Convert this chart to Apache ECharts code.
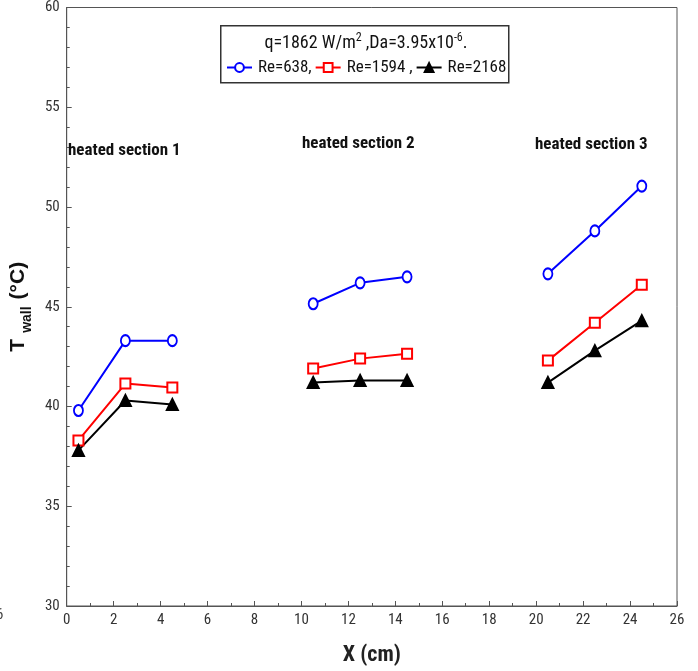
<!DOCTYPE html>
<html>
<head>
<meta charset="utf-8">
<script src="https://cdn.jsdelivr.net/npm/echarts@6/dist/echarts.min.js"></script>
<style>
  html, body { margin: 0; padding: 0; background: #fff; }
  #chart { width: 698px; height: 671px; }
</style>
</head>
<body>
<div id="chart"></div>
<script>
// Axial positions of the wall thermocouples (cm)
const xPositions = [0.5, 2.5, 4.5, 10.5, 12.5, 14.5, 20.5, 22.5, 24.5];
// Wall temperatures (°C) for each Reynolds number
const tRe638  = [39.8, 43.3, 43.3, 45.15, 46.2, 46.5, 46.65, 48.8, 51.05];
const tRe1594 = [38.3, 41.15, 40.95, 41.9, 42.4, 42.65, 42.3, 44.2, 46.1];
const tRe2168 = [37.8, 40.3, 40.1, 41.2, 41.3, 41.3, 41.2, 42.8, 44.3];
// Three separate heated sections (index ranges into the arrays above)
const sections = [[0, 3], [3, 6], [6, 9]];
const sectionLabels = ['heated section 1', 'heated section 2', 'heated section 3'];
const seriesNames = ['Re=638,', 'Re=1594 ,', 'Re=2168'];

const NARROW = '"Roboto Condensed", "Liberation Sans", Arial, sans-serif';
const SANS = '"Liberation Sans", Arial, sans-serif';

function pairs(values, range) {
  const out = [];
  for (let i = range[0]; i < range[1]; i++) out.push([xPositions[i], values[i]]);
  return out;
}

const styles = [
  { name: seriesNames[0], values: tRe638,  color: '#0000ff', symbol: 'emptyCircle', size: [9, 11] },
  { name: seriesNames[1], values: tRe1594, color: '#ff0000', symbol: 'emptyRect',   size: 10 },
  { name: seriesNames[2], values: tRe2168, color: '#000000', symbol: 'triangle',    size: 11 }
];

// one line per heated section, so the sections are not joined
const series = [];
styles.forEach(s => {
  sections.forEach(range => {
    series.push({
      type: 'line',
      name: s.name,
      data: pairs(s.values, range),
      symbol: s.symbol,
      symbolSize: s.size,
      showAllSymbol: true,
      lineStyle: { color: s.color, width: 2 },
      itemStyle: { color: s.color, borderColor: s.color, borderWidth: 2 },
      emphasis: { disabled: true },
      z: 3
    });
  });
});

const chart = echarts.init(document.getElementById('chart'), null, { renderer: 'canvas' });
chart.setOption({
  animation: false,
  backgroundColor: '#fff',
  grid: { left: 60, right: 21, top: 7, bottom: 64, show: true, borderColor: '#555', borderWidth: 1 },
  xAxis: {
    type: 'value', min: 0, max: 26, interval: 2,
    axisLine: { show: true, onZero: false, lineStyle: { color: '#555', width: 1 } },
    axisTick: { show: true, inside: true, length: 5, lineStyle: { color: '#555' } },
    minorTick: { show: true, splitNumber: 2, length: 3, lineStyle: { color: '#555' } },
    splitLine: { show: false },
    axisLabel: { color: '#333', fontFamily: NARROW, fontSize: 15, margin: 7 },
    name: 'X (cm)', nameLocation: 'middle', nameGap: 38,
    nameTextStyle: { color: '#222', fontFamily: NARROW, fontWeight: 'bold', fontSize: 22 }
  },
  yAxis: {
    type: 'value', min: 30, max: 60, interval: 5,
    axisLine: { show: true, onZero: false, lineStyle: { color: '#555', width: 1 } },
    axisTick: { show: true, inside: true, length: 5, lineStyle: { color: '#555' } },
    minorTick: { show: true, splitNumber: 5, length: 3, lineStyle: { color: '#555' } },
    splitLine: { show: false },
    axisLabel: { color: '#333', fontFamily: NARROW, fontSize: 15, margin: 7 },
    name: '{b|T}{s|wall}{b|(°C)}', nameLocation: 'middle', nameGap: 28, nameRotate: 90,
    nameTextStyle: {
      rich: {
        b: { color: '#111', fontFamily: SANS, fontWeight: 'bold', fontSize: 21, verticalAlign: 'bottom', lineHeight: 24 },
        s: { color: '#111', fontFamily: SANS, fontWeight: 'bold', fontSize: 14, verticalAlign: 'bottom', lineHeight: 24, padding: [0, 7, -5, 6] }
      }
    }
  },
  legend: {
    data: seriesNames,
    left: 221, top: 54,
    itemWidth: 25, itemHeight: 11, itemGap: 3,
    selectedMode: false,
    textStyle: { color: '#111', fontFamily: NARROW, fontSize: 17, padding: [0, 0, 0, 1] }
  },
  graphic: [
    {
      type: 'rect', left: 220, top: 25, z: 0,
      shape: { width: 288, height: 57 },
      style: { fill: '#fff', stroke: '#333', lineWidth: 1.5 }
    },
    {
      type: 'text', x: 366, y: 42, z: 5,
      style: {
        text: '{m|q=1862 W/m}{p|2}{m| ,Da=3.95x10}{p|-6}{m|.}',
        align: 'center', verticalAlign: 'middle',
        rich: {
          m: { fontFamily: NARROW, fontSize: 18, fill: '#111', verticalAlign: 'bottom', lineHeight: 20 },
          p: { fontFamily: NARROW, fontSize: 12, fill: '#111', verticalAlign: 'top', lineHeight: 20, padding: [0, 0, 8, 0] }
        }
      }
    },
    {
      type: 'text', x: 68, y: 151, z: 5,
      style: { text: sectionLabels[0], fontFamily: NARROW, fontWeight: 'bold', fontSize: 17, fill: '#111', verticalAlign: 'middle' }
    },
    {
      type: 'text', x: 302, y: 144, z: 5,
      style: { text: sectionLabels[1], fontFamily: NARROW, fontWeight: 'bold', fontSize: 17, fill: '#111', verticalAlign: 'middle' }
    },
    {
      type: 'text', x: 535, y: 145, z: 5,
      style: { text: sectionLabels[2], fontFamily: NARROW, fontWeight: 'bold', fontSize: 17, fill: '#111', verticalAlign: 'middle' }
    },
    {
      type: 'text', x: -4, y: 615, z: 5,
      style: { text: '6', fontFamily: NARROW, fontSize: 15, fill: '#444', verticalAlign: 'middle' }
    }
  ],
  series: series
});
</script>
</body>
</html>
